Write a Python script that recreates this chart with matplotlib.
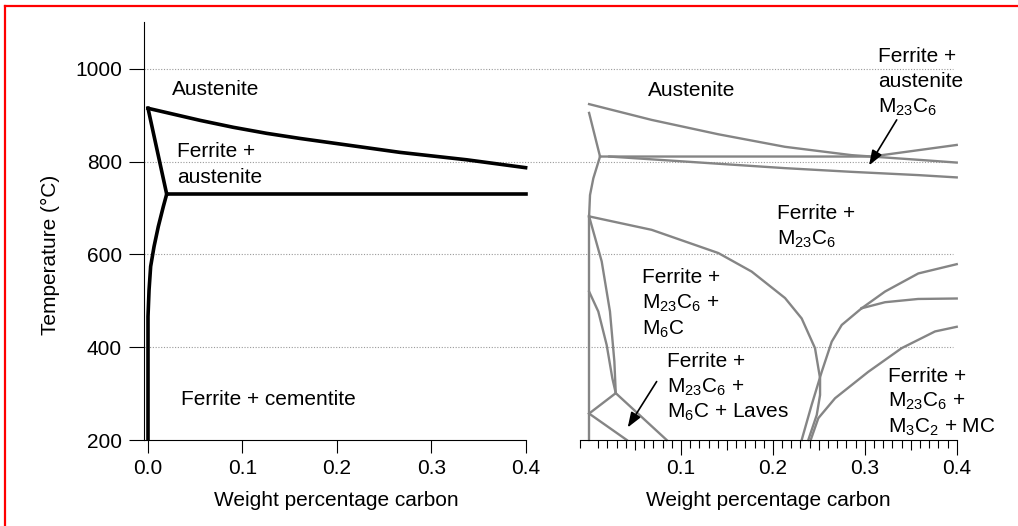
import matplotlib
matplotlib.use('Agg')
import matplotlib.pyplot as plt
from matplotlib.lines import Line2D

plt.rcParams['font.family'] = ['Liberation Sans', 'DejaVu Sans']
plt.rcParams['mathtext.fontset'] = 'custom'
plt.rcParams['mathtext.rm'] = 'Liberation Sans'
plt.rcParams['mathtext.it'] = 'Liberation Sans:italic'
plt.rcParams['mathtext.bf'] = 'Liberation Sans:bold'
plt.rcParams['font.size'] = 15

# ---- left diagram: Fe-C (plain carbon steel) ----
l_a3_x = [0.0, 0.0198]
l_a3_t = [915, 730]
l_acm_x = [0.0, 0.0339, 0.0551, 0.0904, 0.1257, 0.161, 0.1963, 0.2316, 0.2669, 0.3022, 0.3376, 0.4]
l_acm_t = [915, 899, 889, 874, 861, 850, 840, 830, 820, 812, 804, 787]
l_a1_x = [0.0198, 0.4]
l_a1_t = [730, 730]
l_solvus_x = [0.0198, 0.0162, 0.0109, 0.0064, 0.0028, 0.0011, 0.0, 0.0]
l_solvus_t = [730, 703, 660, 617, 574, 523, 466, 200]

# ---- right diagram: alloy steel, grey lines ----
r_top_x = [0.0, 0.068, 0.1406, 0.213, 0.2857, 0.358, 0.40]
r_top_t = [924, 890, 859, 832, 814, 804, 798]
r_a3_x = [0.0, 0.0119]
r_a3_t = [905, 811]
r_eut_x = [0.0119, 0.3075, 0.40]
r_eut_t = [811, 811, 836]
r_low_x = [0.022, 0.213, 0.2857, 0.358, 0.40]
r_low_t = [811, 786, 778, 771, 766]
r_alpha_x = [0.0119, 0.0046, 0.001, 0.0]
r_alpha_t = [811, 764, 728, 682]
r_vert_x = [0.0, 0.0]
r_vert_t = [682, 200]
r_dome_x = [0.0, 0.0681, 0.1406, 0.1769, 0.2132, 0.2313, 0.2458, 0.2513, 0.2513, 0.2477, 0.2385]
r_dome_t = [682, 653, 603, 563, 506, 462, 398, 333, 297, 254, 200]
r_m6c1_x = [0.0, 0.0137, 0.0227, 0.0275, 0.029]
r_m6c1_t = [682, 585, 477, 369, 301]
r_m6c2_x = [0.0, 0.01, 0.0191, 0.0253, 0.029]
r_m6c2_t = [520, 477, 405, 333, 301]
r_lav1_x = [0.029, 0.0]
r_lav1_t = [301, 257]
r_lav2_x = [0.029, 0.0844]
r_lav2_t = [301, 200]
r_lav3_x = [0.0, 0.041]
r_lav3_t = [257, 200]
r_asc_x = [0.2313, 0.2422, 0.2531, 0.264, 0.2749, 0.2966]
r_asc_t = [200, 276, 347, 412, 448, 484]
r_upper_x = [0.2966, 0.322, 0.3582, 0.40]
r_upper_t = [484, 520, 559, 579]
r_mid_x = [0.2966, 0.322, 0.358, 0.40]
r_mid_t = [484, 497, 504, 505]
r_lowr_x = [0.2411, 0.2494, 0.2676, 0.3038, 0.3401, 0.3764, 0.40]
r_lowr_t = [200, 247, 290, 347, 398, 434, 444]

right_curves = [
    (r_top_x, r_top_t), (r_a3_x, r_a3_t), (r_eut_x, r_eut_t), (r_low_x, r_low_t),
    (r_alpha_x, r_alpha_t), (r_vert_x, r_vert_t), (r_dome_x, r_dome_t),
    (r_m6c1_x, r_m6c1_t), (r_m6c2_x, r_m6c2_t), (r_lav1_x, r_lav1_t),
    (r_lav2_x, r_lav2_t), (r_lav3_x, r_lav3_t), (r_asc_x, r_asc_t),
    (r_upper_x, r_upper_t), (r_mid_x, r_mid_t), (r_lowr_x, r_lowr_t),
]

grid_t = [400, 600, 800, 1000]
y_ticks = [200, 400, 600, 800, 1000]
x_ticks = [0.0, 0.1, 0.2, 0.3, 0.4]
x_ticklabels = ['0.0', '0.1', '0.2', '0.3', '0.4']

# region labels: (x, first baseline, lines)
left_labels = [
    (0.0254, 943, ['Austenite']),
    (0.031, 809, ['Ferrite +', 'austenite']),
    (0.035, 276, ['Ferrite + cementite']),
]
right_labels = [
    (0.0645, 942, ['Austenite']),
    (0.3145, 1015, ['Ferrite +', 'austenite', 'M$_{23}$C$_6$']),
    (0.204, 676, ['Ferrite +', 'M$_{23}$C$_6$']),
    (0.0572, 538, ['Ferrite +', 'M$_{23}$C$_6$ +', 'M$_6$C']),
    (0.0844, 358, ['Ferrite +', 'M$_{23}$C$_6$ +', 'M$_6$C + Laves']),
    (0.3254, 326, ['Ferrite +', 'M$_{23}$C$_6$ +', 'M$_3$C$_2$ + MC']),
]
line_step = 55

W, H = 1018, 526
fig = plt.figure(figsize=(W / 100, H / 100), dpi=100)

def box(l, r, b, t):
    return [l / W, 1 - b / H, (r - l) / W, (b - t) / H]

ax1 = fig.add_axes(box(144, 555, 440, 22))
ax2 = fig.add_axes(box(555, 957, 440, 22))

grid_kw = dict(color='#9a9a9a', lw=0.8, ls=(0, (1, 1.5)), zorder=0)

# left
ax1.set_xlim(-0.00424, 0.43114)
ax1.set_ylim(200, 1101)
for t in grid_t:
    ax1.axhline(t, **grid_kw)
ax1.plot(l_a3_x, l_a3_t, color='black', lw=2.6, solid_joinstyle='miter')
ax1.plot(l_acm_x, l_acm_t, color='black', lw=2.6)
ax1.plot(l_a1_x, l_a1_t, color='black', lw=2.6)
ax1.plot(l_solvus_x, l_solvus_t, color='black', lw=2.6)
for x, t0, lines in left_labels:
    for i, s in enumerate(lines):
        ax1.text(x, t0 - i * line_step, s, ha='left', va='baseline')

ax1.spines['top'].set_visible(False)
ax1.spines['right'].set_visible(False)
ax1.spines['bottom'].set_bounds(-0.00424, 0.4)
ax1.set_xticks(x_ticks)
ax1.set_xticklabels(x_ticklabels)
ax1.set_yticks(y_ticks)
ax1.tick_params(axis='x', length=9.4, width=0.8, pad=4.3)
ax1.tick_params(axis='y', length=10.8, width=0.8, pad=5)
ax1.set_ylabel('Temperature (°C)')
ax1.yaxis.set_label_coords(-0.2044, 0.4426)
ax1.set_xlabel('Weight percentage carbon')
ax1.xaxis.set_label_coords(0.468, -0.122)

# right
ax2.set_xlim(-0.0371, 0.4003)
ax2.set_ylim(200, 1101)
ax2.patch.set_visible(False)
for t in grid_t:
    ax2.hlines(t, -0.0371, 0.396, **grid_kw)
for xs, ts in right_curves:
    ax2.plot(xs, ts, color='#858585', lw=1.7, clip_on=False)
for x, t0, lines in right_labels:
    for i, s in enumerate(lines):
        ax2.text(x, t0 - i * line_step, s, ha='left', va='baseline')

arrow_kw = dict(arrowstyle='-|>,head_length=0.6,head_width=0.22', color='black',
                lw=1.2, mutation_scale=15, shrinkA=0, shrinkB=0)
ax2.annotate('', xy=(0.3046, 792), xytext=(0.3347, 890), arrowprops=arrow_kw)
ax2.annotate('', xy=(0.042, 227), xytext=(0.0735, 326), arrowprops=arrow_kw)

for s in ['top', 'right', 'left']:
    ax2.spines[s].set_visible(False)
ax2.spines['bottom'].set_bounds(-0.0098, 0.4)
ax2.set_yticks([])
ax2.set_xticks([0.1, 0.2, 0.3, 0.4])
ax2.set_xticklabels(x_ticklabels[1:])
minor = [-0.0098] + [i / 100 for i in range(1, 40) if i % 10 != 0]
ax2.set_xticks(minor, minor=True)
ax2.tick_params(axis='x', which='major', length=10.5, width=0.8, pad=3.2)
ax2.tick_params(axis='x', which='minor', length=5.5, width=0.8)
for tk, v in zip(ax2.xaxis.get_minor_ticks(), minor):
    if v > 0 and round(v * 100) % 5 == 0:
        tk.tick1line.set_markersize(7.5)
ax2.set_xlabel('Weight percentage carbon')
ax2.xaxis.set_label_coords(0.5299, -0.122)

# red frame on left and top edges
fig.add_artist(Line2D([5 / W, 5 / W], [0, 1 - 6 / H], color='red', lw=1.6))
fig.add_artist(Line2D([5 / W, 1], [1 - 6 / H, 1 - 6 / H], color='red', lw=1.6))

fig.savefig('out.png', dpi=100)
